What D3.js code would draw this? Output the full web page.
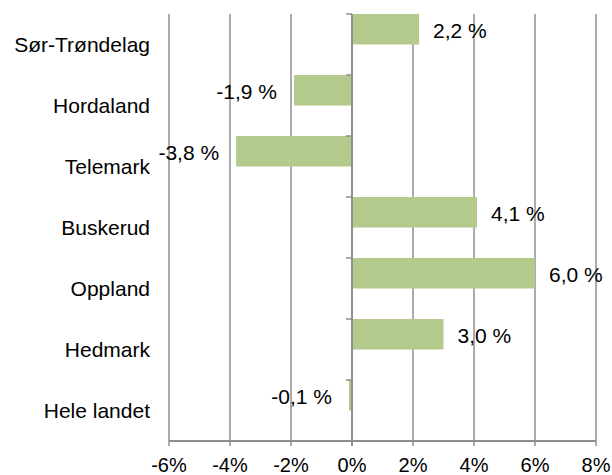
<!DOCTYPE html>
<html lang="no">
<head>
<meta charset="UTF-8">
<title>Endring per fylke</title>
<script src="https://d3js.org/d3.v7.min.js"></script>
<style>
  body { margin: 0; background: #fff; }
  text { font-family: "Liberation Sans", Arial, sans-serif; fill: #000; }
  .grid line { stroke: #8f8f8f; stroke-width: 1.5; }
</style>
</head>
<body>
<svg id="chart" width="612" height="475"></svg>
<script>
// data
const regions = ["Sør-Trøndelag", "Hordaland", "Telemark", "Buskerud", "Oppland", "Hedmark", "Hele landet"];
const change = [2.2, -1.9, -3.8, 4.1, 6.0, 3.0, -0.1];
const xTicks = [-6, -4, -2, 0, 2, 4, 6, 8];

const svg = d3.select("#chart");
const plotLeft = 169, plotRight = 596, plotTop = 14, plotBottom = 441;

const x = d3.scaleLinear().domain([-6, 8]).range([plotLeft, plotRight]);
const y = d3.scaleBand().domain(regions).range([plotTop, plotBottom]);

const fmt = v => d3.format(".1f")(v).replace(".", ",").replace("−", "-") + " %";

// vertical gridlines
svg.append("g").attr("class", "grid")
  .selectAll("line")
  .data(xTicks.filter(d => d !== 0))
  .join("line")
    .attr("x1", d => x(d)).attr("x2", d => x(d))
    .attr("y1", plotTop).attr("y2", plotBottom + 5);

// bars (top half of each band, as in the original two-series layout)
svg.append("g")
  .selectAll("rect")
  .data(regions)
  .join("rect")
    .attr("x", (d, i) => Math.min(x(0), x(change[i])))
    .attr("y", d => y(d))
    .attr("width", (d, i) => Math.max(1, Math.abs(x(change[i]) - x(0))))
    .attr("height", y.bandwidth() / 2)
    .attr("fill", "#b4ca8c");

// zero axis with category ticks
const zero = svg.append("g").attr("class", "grid");
zero.append("line")
  .attr("x1", x(0)).attr("x2", x(0))
  .attr("y1", plotTop).attr("y2", plotBottom + 5)
  .style("stroke-width", 2);
zero.selectAll("line.tick")
  .data(regions.concat([null]))
  .join("line")
    .attr("class", "tick")
    .attr("x1", x(0) - 6).attr("x2", x(0))
    .attr("y1", (d, i) => plotTop + i * y.step())
    .attr("y2", (d, i) => plotTop + i * y.step());

// bottom axis line
svg.append("g").attr("class", "grid")
  .append("line")
  .attr("x1", plotLeft).attr("x2", plotRight)
  .attr("y1", plotBottom).attr("y2", plotBottom)
  .style("stroke-width", 2);

// x tick labels
svg.append("g")
  .selectAll("text")
  .data(xTicks)
  .join("text")
    .attr("x", d => x(d))
    .attr("y", 472)
    .attr("text-anchor", "middle")
    .style("font-size", "20px")
    .text(d => d + "%");

// category labels
svg.append("g")
  .selectAll("text")
  .data(regions)
  .join("text")
    .attr("x", 150)
    .attr("y", d => y(d) + y.bandwidth() / 2)
    .attr("dy", "0.36em")
    .attr("text-anchor", "end")
    .style("font-size", "21px")
    .text(d => d);

// value labels
svg.append("g")
  .selectAll("text")
  .data(regions)
  .join("text")
    .attr("x", (d, i) => change[i] >= 0 ? x(change[i]) + 14 : x(change[i]) - 17)
    .attr("y", d => y(d) + y.bandwidth() / 4)
    .attr("dy", "0.4em")
    .attr("text-anchor", (d, i) => change[i] >= 0 ? "start" : "end")
    .style("font-size", "21px")
    .text((d, i) => fmt(change[i]));
</script>
</body>
</html>
